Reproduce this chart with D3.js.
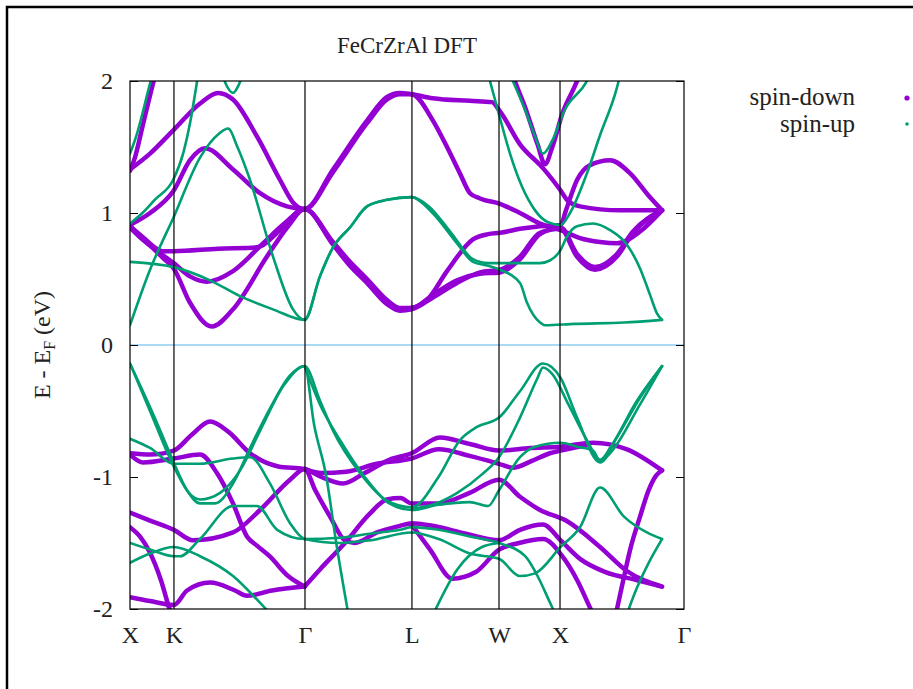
<!DOCTYPE html>
<html>
<head>
<meta charset="utf-8">
<script src="https://cdn.jsdelivr.net/npm/d3@7"></script>
<style>
body { margin: 0; background: #fff; }
svg { display: block; }
</style>
</head>
<body>
<svg></svg>
<script>
const width = 913
const height = 689
const marginTop = 81
const marginRight = 229
const marginBottom = 80
const marginLeft = 130
const serif = "Liberation Serif, DejaVu Serif, serif"

// path positions of the high symmetry points (2pi/a units)
const symLabels = ["X", "K", "Γ", "L", "W", "X", "Γ"]
const symK = [0, 0.356, 1.417, 2.283, 2.988, 3.482, 4.486]
const yTicks = [-2, -1, 0, 1, 2]

// spin-down bands, [k, E - EF]
const dnA = [[0,1.33],[0.162,1.45],[0.354,1.63],[0.567,1.83],[0.713,1.91],[0.834,1.86],[1.028,1.58],[1.215,1.25],[1.32,1.08],[1.414,1.03],[1.644,1.33],[1.919,1.70],[2.081,1.88],[2.186,1.91],[2.28,1.90],[2.45,1.87],[2.75,1.85],[2.93,1.84],[2.996,1.77],[3.158,1.52],[3.344,1.34],[3.487,1.17],[3.538,1.10],[3.644,1.05],[3.97,1.02],[4.308,1.02]]
const dnB = [[0,0.91],[0.162,1.0],[0.354,1.17],[0.486,1.40],[0.607,1.49],[0.834,1.33],[1.053,1.15],[1.271,1.05],[1.414,1.03],[1.644,1.31],[1.919,1.68],[2.081,1.86],[2.186,1.90],[2.28,1.90],[2.453,1.70],[2.567,1.50],[2.672,1.30],[2.753,1.15],[2.834,1.11],[2.996,1.07],[3.158,1.0],[3.32,0.92],[3.487,0.87],[3.644,0.81],[3.806,0.78],[3.943,0.77],[4.13,0.86],[4.308,1.02]]
const dnC = [[0,0.90],[0.1,0.82],[0.267,0.71],[0.354,0.71],[0.713,0.73],[1.028,0.74],[1.215,0.87],[1.414,1.03],[1.644,0.77],[1.781,0.62],[1.919,0.49],[2.081,0.33],[2.186,0.27],[2.28,0.28],[2.405,0.34],[2.567,0.56],[2.777,0.80],[2.9,0.84],[2.996,0.85],[3.158,0.88],[3.32,0.90],[3.487,0.91],[3.53,1.02],[3.62,1.25],[3.72,1.36],[3.887,1.40],[4.05,1.30],[4.2,1.13],[4.308,1.02]]
const dnD = [[0,0.89],[0.1,0.80],[0.267,0.68],[0.354,0.62],[0.486,0.52],[0.623,0.48],[0.834,0.56],[1.077,0.77],[1.25,0.92],[1.414,1.03],[1.644,0.76],[1.781,0.60],[1.919,0.47],[2.081,0.31],[2.186,0.26],[2.28,0.27],[2.453,0.36],[2.648,0.47],[2.834,0.55],[2.996,0.57],[3.158,0.67],[3.32,0.85],[3.487,0.88],[3.619,0.67],[3.765,0.57],[3.943,0.67],[4.073,0.85],[4.308,1.02]]
const dnE = [[0,0.90],[0.1,0.81],[0.267,0.66],[0.354,0.58],[0.486,0.32],[0.664,0.14],[0.834,0.27],[1.109,0.67],[1.28,0.9],[1.414,1.03],[1.644,0.78],[1.781,0.63],[1.919,0.50],[2.081,0.34],[2.186,0.28],[2.28,0.28],[2.453,0.38],[2.648,0.49],[2.834,0.54],[2.996,0.55],[3.158,0.65],[3.32,0.84],[3.487,0.89],[3.619,0.69],[3.765,0.59],[3.943,0.69],[4.073,0.86],[4.308,1.02]]
const dnF = [[0,1.32],[0.04,1.42],[0.1,1.65],[0.186,1.98],[0.22,2.1]]
const dnG = [[3.05,2.2],[3.117,2.0],[3.2,1.8],[3.3,1.52],[3.36,1.37],[3.42,1.5],[3.5,1.75],[3.62,2.0],[3.66,2.1]]
const dnV1 = [[0,-0.82],[0.162,-0.83],[0.354,-0.80],[0.5,-0.68],[0.648,-0.58],[0.8,-0.66],[0.972,-0.82],[1.2,-0.92],[1.414,-0.94],[1.55,-1.0],[1.725,-1.05],[1.9,-0.97],[2.1,-0.87],[2.28,-0.82],[2.51,-0.70],[2.753,-0.75],[2.988,-0.80],[3.24,-0.78],[3.487,-0.77],[3.749,-0.74],[4.024,-0.79],[4.308,-0.95]]
const dnV1b = [[1.414,-0.94],[1.55,-0.97],[1.75,-0.96],[2.0,-0.9],[2.28,-0.86],[2.5,-0.79],[2.75,-0.84],[2.988,-0.90],[3.1,-0.93],[3.25,-0.88],[3.4,-0.82],[3.487,-0.80],[3.7,-0.76]]
const dnV2 = [[0,-0.83],[0.105,-0.89],[0.354,-0.86],[0.567,-0.83],[0.704,-0.97],[0.834,-1.2],[0.947,-1.45],[1.028,-1.52],[1.13,-1.6],[1.28,-1.75],[1.414,-1.83]]
const dnV3 = [[0,-1.27],[0.162,-1.33],[0.354,-1.40],[0.51,-1.48],[0.834,-1.42],[1.053,-1.25],[1.296,-1.02],[1.414,-0.94],[1.5,-1.1],[1.62,-1.3],[1.74,-1.48],[1.82,-1.5],[2.0,-1.42],[2.186,-1.37],[2.28,-1.35],[2.45,-1.37],[2.72,-1.43],[2.988,-1.48],[3.158,-1.40],[3.344,-1.36],[3.487,-1.48],[3.644,-1.62],[3.85,-1.72],[4.1,-1.78],[4.308,-1.83]]
const dnV4 = [[0,-1.38],[0.08,-1.45],[0.16,-1.57],[0.25,-1.78],[0.32,-2.0],[0.36,-2.1]]
const dnV5 = [[0,-1.91],[0.162,-1.94],[0.354,-1.97],[0.462,-1.86],[0.648,-1.80],[0.85,-1.86],[0.947,-1.90],[1.15,-1.86],[1.414,-1.83]]
const dnV6 = [[1.414,-1.83],[1.538,-1.70],[1.74,-1.50],[1.94,-1.28],[2.08,-1.17],[2.19,-1.16],[2.28,-1.2],[2.5,-1.2],[2.75,-1.12],[2.988,-1.02],[3.158,-1.15],[3.32,-1.25],[3.53,-1.33],[3.806,-1.53],[4.02,-1.71],[4.308,-1.83]]
const dnV7 = [[2.28,-1.36],[2.43,-1.55],[2.61,-1.77],[2.8,-1.72],[2.988,-1.55],[3.15,-1.5],[3.344,-1.47],[3.5,-1.6],[3.62,-1.78],[3.73,-2.0],[3.78,-2.1]]
const dnV8 = [[3.92,-2.1],[3.99,-1.8],[4.05,-1.55],[4.13,-1.3],[4.2,-1.1],[4.26,-0.99],[4.308,-0.95]]

// spin-up bands
const upA = [[0,0.63],[0.354,0.59],[0.648,0.49],[0.891,0.37],[1.158,0.27],[1.414,0.19],[1.538,0.52],[1.644,0.74],[1.781,0.89],[1.919,1.05],[2.081,1.10],[2.28,1.12],[2.42,1.05],[2.6,0.85],[2.777,0.65],[2.9,0.62],[2.996,0.62],[3.32,0.62],[3.4,0.64],[3.487,0.72],[3.538,0.82],[3.619,0.90],[3.749,0.92],[3.887,0.87],[4.024,0.76],[4.13,0.58],[4.211,0.38],[4.267,0.24],[4.308,0.19]]
const upB = [[0,0.15],[0.162,0.57],[0.354,0.97],[0.567,1.42],[0.72,1.60],[0.794,1.64],[0.87,1.50],[0.972,1.25],[1.158,0.67],[1.32,0.27],[1.414,0.19],[1.538,0.52],[1.644,0.74],[1.781,0.89],[1.919,1.05],[2.081,1.10],[2.28,1.12],[2.45,1.0],[2.648,0.77],[2.777,0.63],[2.9,0.6],[2.996,0.57],[3.158,0.47],[3.215,0.32],[3.32,0.17],[3.36,0.15],[3.6,0.16],[4.0,0.17],[4.308,0.19]]
const upC = [[0,1.45],[0.05,1.58],[0.1,1.75],[0.162,1.98],[0.2,2.1]]
const upD = [[0,0.92],[0.1,1.0],[0.2,1.1],[0.354,1.26],[0.43,1.45],[0.49,1.7],[0.54,1.98],[0.56,2.1]]
const upE = [[0.73,2.1],[0.78,1.97],[0.834,1.91],[0.88,1.97],[0.93,2.1]]
const upF = [[3.0,2.2],[3.1,2.0],[3.2,1.78],[3.28,1.58],[3.344,1.45],[3.42,1.55],[3.52,1.78],[3.7,2.0],[3.75,2.1]]
const upG = [[2.9,2.05],[2.987,1.75],[3.077,1.45],[3.174,1.2],[3.28,1.02],[3.385,0.93],[3.487,0.91],[3.563,1.0],[3.7,1.3],[3.81,1.6],[3.943,1.95],[3.97,2.05]]
const upV1 = [[0,-0.14],[0.162,-0.47],[0.3,-0.77],[0.354,-0.89],[0.462,-1.10],[0.567,-1.2],[0.688,-1.2],[0.834,-1.05],[0.972,-0.78],[1.134,-0.48],[1.296,-0.23],[1.414,-0.16],[1.538,-0.42],[1.644,-0.65],[1.862,-0.97],[2.081,-1.18],[2.28,-1.23],[2.498,-1.0],[2.672,-0.72],[2.81,-0.62],[2.988,-0.55],[3.158,-0.35],[3.344,-0.14],[3.487,-0.25],[3.62,-0.55],[3.806,-0.89],[3.943,-0.7],[4.13,-0.4],[4.308,-0.16]]
const upV2 = [[0,-0.14],[0.162,-0.5],[0.354,-0.92],[0.486,-1.13],[0.567,-1.17],[0.73,-1.12],[0.891,-0.95],[1.053,-0.65],[1.25,-0.3],[1.414,-0.16],[1.49,-0.6],[1.59,-1.0],[1.67,-1.5],[1.77,-2.05]]
const upV3 = [[0,-0.71],[0.162,-0.78],[0.354,-0.90],[0.567,-0.90],[0.834,-0.86],[0.972,-0.85],[1.134,-1.05],[1.296,-1.35],[1.414,-1.47],[1.7,-1.5],[1.94,-1.48],[2.28,-1.42],[2.5,-1.47],[2.753,-1.58],[2.988,-1.62],[3.158,-1.75],[3.28,-1.73],[3.487,-1.53],[3.644,-1.38],[3.806,-1.08],[4.0,-1.3],[4.186,-1.42],[4.308,-1.47]]
const upV4 = [[0,-1.65],[0.162,-1.58],[0.354,-1.53],[0.567,-1.6],[0.834,-1.75],[1.05,-1.95],[1.15,-2.05]]
const upV5 = [[1.414,-0.16],[1.538,-0.45],[1.7,-0.72],[1.9,-1.0],[2.1,-1.2],[2.28,-1.25],[2.5,-1.21],[2.75,-1.19],[2.9,-1.22],[2.988,-1.1],[3.158,-0.85],[3.28,-0.77],[3.487,-0.74],[3.62,-0.77],[3.75,-0.80],[3.806,-0.88],[3.887,-0.82],[4.13,-0.45],[4.308,-0.16]]
const upV6 = [[0,-1.5],[0.162,-1.55],[0.354,-1.60],[0.405,-1.6],[0.567,-1.47],[0.834,-1.22],[1.028,-1.22],[1.192,-1.4],[1.414,-1.47],[1.7,-1.46],[1.94,-1.43],[2.186,-1.4],[2.28,-1.38],[2.5,-1.40],[2.75,-1.45],[2.988,-1.5],[3.2,-1.6],[3.3,-1.75],[3.4,-1.95],[3.45,-2.05]]
const upV7 = [[2.28,-1.24],[2.45,-1.21],[2.65,-1.12],[2.85,-0.98],[2.988,-0.85],[3.158,-0.55],[3.3,-0.25],[3.344,-0.17],[3.42,-0.22],[3.55,-0.45],[3.7,-0.72],[3.806,-0.87],[3.9,-0.76],[4.1,-0.43],[4.308,-0.16]]
const upV8 = [[4.0,-2.1],[4.1,-1.85],[4.2,-1.65],[4.308,-1.47]]
const upV9 = [[2.45,-2.05],[2.65,-1.7],[2.85,-1.53],[2.988,-1.5]]

const spinDown = [dnA, dnB, dnC, dnD, dnE, dnF, dnG, dnV1, dnV1b, dnV2, dnV3, dnV4, dnV5, dnV6, dnV7, dnV8]
const spinUp = [upA, upB, upC, upD, upE, upF, upG, upV1, upV2, upV3, upV4, upV5, upV6, upV7, upV8, upV9]

const svg = d3.select("svg")
    .attr("width", width)
    .attr("height", height)
    .attr("font-family", serif)

// outer frame of the screenshot
svg.append("path")
    .attr("d", `M7,${height} V7 H${width}`)
    .attr("fill", "none")
    .attr("stroke", "#000")
    .attr("stroke-width", 2.5)

const x = d3.scaleLinear()
    .domain([symK[0], symK[symK.length - 1]])
    .range([marginLeft, width - marginRight])

const y = d3.scaleLinear()
    .domain([-2, 2])
    .range([height - marginBottom, marginTop])

svg.append("defs").append("clipPath")
    .attr("id", "plot")
    .append("rect")
    .attr("x", x.range()[0])
    .attr("y", y.range()[1])
    .attr("width", x.range()[1] - x.range()[0])
    .attr("height", y.range()[0] - y.range()[1])

// title
svg.append("text")
    .attr("x", (x.range()[0] + x.range()[1]) / 2)
    .attr("y", 53)
    .attr("text-anchor", "middle")
    .attr("font-family", serif)
    .attr("font-size", "23px")
    .attr("fill", "#222")
    .text("FeCrZrAl DFT")

// Fermi level
svg.append("line")
    .attr("x1", x.range()[0]).attr("x2", x.range()[1])
    .attr("y1", y(0)).attr("y2", y(0))
    .attr("stroke", "#56B4E9")
    .attr("stroke-width", 1.2)

// bands
const line = d3.line()
    .x(d => x(d[0]))
    .y(d => y(d[1]))
    .curve(d3.curveMonotoneX)

const bands = svg.append("g").attr("clip-path", "url(#plot)").attr("fill", "none")

bands.selectAll(".dn")
    .data(spinDown)
    .join("path")
    .attr("class", "dn")
    .attr("d", line)
    .attr("stroke", "#9400D3")
    .attr("stroke-width", 4.5)
    .attr("stroke-linecap", "round")

bands.selectAll(".up")
    .data(spinUp)
    .join("path")
    .attr("class", "up")
    .attr("d", line)
    .attr("stroke", "#009E73")
    .attr("stroke-width", 2.6)
    .attr("stroke-linecap", "round")

// symmetry lines
svg.append("g")
    .selectAll("line")
    .data(symK.slice(1, -1))
    .join("line")
    .attr("x1", d => x(d)).attr("x2", d => x(d))
    .attr("y1", y(-2)).attr("y2", y(2))
    .attr("stroke", "#000")
    .attr("stroke-width", 1.2)

// frame + ticks
svg.append("rect")
    .attr("x", x.range()[0])
    .attr("y", y.range()[1])
    .attr("width", x.range()[1] - x.range()[0])
    .attr("height", y.range()[0] - y.range()[1])
    .attr("fill", "none")
    .attr("stroke", "#000")
    .attr("stroke-width", 1.2)

const yAxis = svg.append("g")
    .attr("transform", `translate(${x.range()[0]},0)`)
    .call(d3.axisLeft(y).tickValues(yTicks).tickFormat(d => String(d)).tickSize(-8).tickPadding(17))
yAxis.select(".domain").remove()
yAxis.selectAll("text").attr("font-size", "24px").attr("font-family", serif).attr("fill", "#222")

const yAxisR = svg.append("g")
    .attr("transform", `translate(${x.range()[1]},0)`)
    .call(d3.axisRight(y).tickValues(yTicks).tickSize(-8).tickFormat(""))
yAxisR.select(".domain").remove()

const xAxis = svg.append("g")
    .attr("transform", `translate(0,${y.range()[0]})`)
    .call(d3.axisBottom(x).tickValues(symK).tickFormat((d, i) => symLabels[i]).tickSize(0).tickPadding(17))
xAxis.select(".domain").remove()
xAxis.selectAll("text").attr("font-size", "24px").attr("font-family", serif).attr("fill", "#222")

// y label
const ylab = svg.append("text")
    .attr("transform", `translate(50,${y(0)}) rotate(-90)`)
    .attr("text-anchor", "middle")
    .attr("font-family", serif)
    .attr("font-size", "24px")
    .attr("fill", "#222")
ylab.append("tspan").text("E - E")
ylab.append("tspan").attr("font-size", "16px").attr("dy", 5).text("F")
ylab.append("tspan").attr("dy", -5).text(" (eV)")

// legend
const legend = [["spin-down", "#9400D3", 2.6], ["spin-up", "#009E73", 1.8]]
const lg = svg.append("g")
lg.selectAll("text")
    .data(legend)
    .join("text")
    .attr("x", 855)
    .attr("y", (d, i) => 105 + i * 27)
    .attr("text-anchor", "end")
    .attr("font-family", serif)
    .attr("font-size", "25px")
    .attr("fill", "#222")
    .text(d => d[0])
lg.selectAll("circle")
    .data(legend)
    .join("circle")
    .attr("cx", 907)
    .attr("cy", (d, i) => 98 + i * 26)
    .attr("r", d => d[2])
    .attr("fill", d => d[1])
</script>
</body>
</html>
